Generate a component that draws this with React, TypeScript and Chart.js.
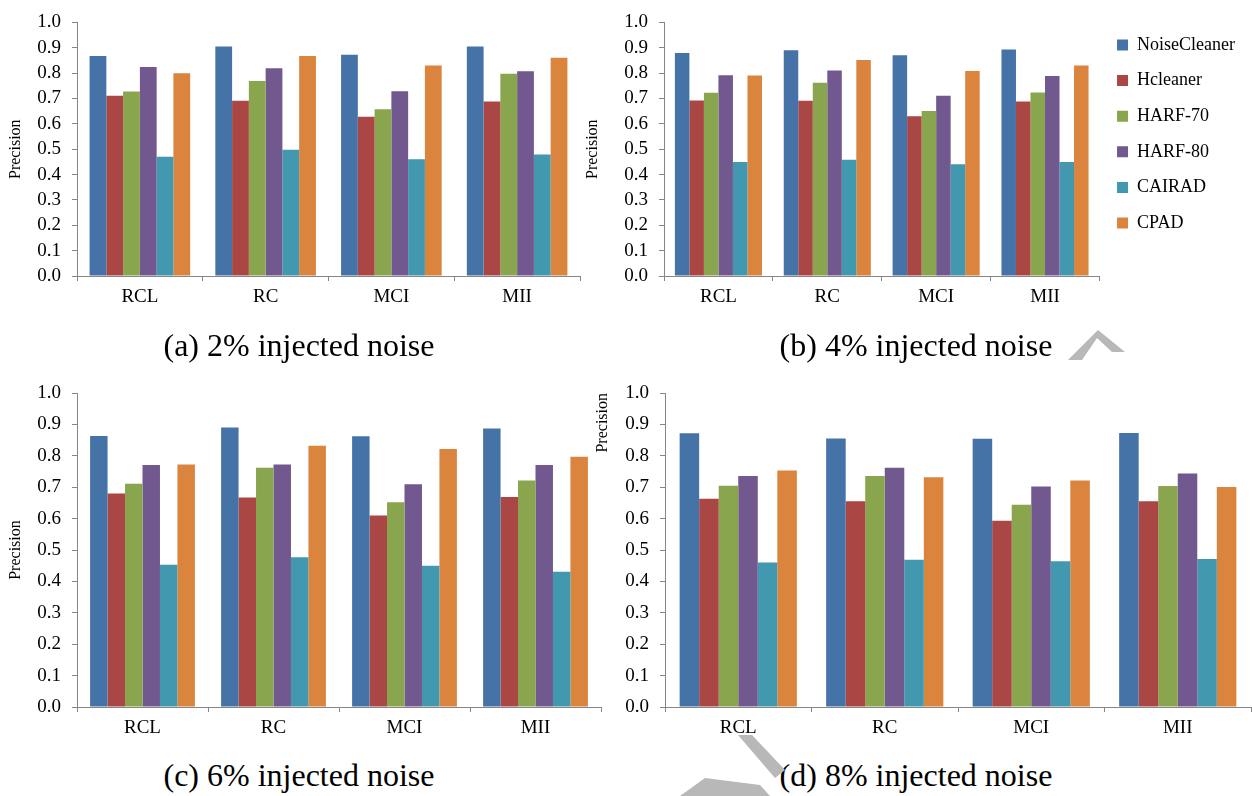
import React, { useEffect, useRef } from 'react';
import { Chart, registerables } from 'chart.js';

Chart.register(...registerables);

const categories = ['RCL', 'RC', 'MCI', 'MII'];
const seriesNames = ['NoiseCleaner', 'Hcleaner', 'HARF-70', 'HARF-80', 'CAIRAD', 'CPAD'];
const seriesColors = ['#4572A7', '#AA4643', '#89A54E', '#71588F', '#4198AF', '#DB843D'];
const yAxisTitle = 'Precision';
const yMin = 0;
const yMax = 1;
const yStep = 0.1;

// rows follow seriesNames, columns follow categories
const precision2 = [
  [0.868, 0.905, 0.872, 0.905],
  [0.711, 0.691, 0.628, 0.688],
  [0.728, 0.769, 0.658, 0.798],
  [0.824, 0.819, 0.729, 0.807],
  [0.470, 0.498, 0.460, 0.479],
  [0.799, 0.868, 0.830, 0.861],
];
const precision4 = [
  [0.879, 0.890, 0.870, 0.893],
  [0.692, 0.691, 0.630, 0.688],
  [0.723, 0.762, 0.651, 0.724],
  [0.792, 0.810, 0.711, 0.789],
  [0.450, 0.458, 0.441, 0.450],
  [0.791, 0.852, 0.808, 0.830],
];
const precision6 = [
  [0.863, 0.890, 0.862, 0.887],
  [0.680, 0.667, 0.610, 0.669],
  [0.711, 0.762, 0.652, 0.721],
  [0.771, 0.772, 0.709, 0.771],
  [0.453, 0.477, 0.450, 0.431],
  [0.772, 0.832, 0.822, 0.797],
];
const precision8 = [
  [0.872, 0.855, 0.854, 0.873],
  [0.663, 0.655, 0.593, 0.655],
  [0.705, 0.736, 0.644, 0.704],
  [0.736, 0.762, 0.702, 0.744],
  [0.460, 0.469, 0.464, 0.471],
  [0.753, 0.732, 0.721, 0.701],
];
const captions = [
  '(a) 2% injected noise',
  '(b) 4% injected noise',
  '(c) 6% injected noise',
  '(d) 8% injected noise',
];

const FONT = "'Liberation Serif', 'Times New Roman', serif";
const AXIS_GRAY = '#868686';

type PanelProps = {
  left: number;
  top: number;
  width: number;
  height: number;
  padding: { top: number; right: number; bottom: number; left: number };
  yWidth: number;
  xHeight: number;
  values: number[][];
  showLegend: boolean;
  titleAlign: 'start' | 'center' | 'end';
};

function Panel(props: PanelProps) {
  const ref = useRef<HTMLCanvasElement | null>(null);
  useEffect(() => {
    if (!ref.current) return;
    const chart = new Chart(ref.current, {
      type: 'bar',
      data: {
        labels: categories,
        datasets: seriesNames.map((name, i) => ({
          label: name,
          data: props.values[i],
          backgroundColor: seriesColors[i],
          borderWidth: 0,
          categoryPercentage: 0.8,
          barPercentage: 1.0,
        })),
      },
      options: {
        responsive: false,
        animation: false,
        events: [],
        devicePixelRatio: 1,
        layout: { padding: props.padding },
        plugins: {
          tooltip: { enabled: false },
          legend: props.showLegend
            ? {
                display: true,
                position: 'right',
                align: 'start',
                title: {
                  display: true,
                  text: ' ',
                  font: { size: 2, lineHeight: 1.2 },
                  padding: 0.5,
                },
                labels: {
                  boxWidth: 11,
                  boxHeight: 11,
                  padding: 17.6,
                  color: '#000',
                  font: { family: FONT, size: 18 },
                },
              }
            : { display: false },
        },
        scales: {
          x: {
            offset: true,
            grid: {
              display: true,
              drawOnChartArea: false,
              drawTicks: true,
              tickLength: 5,
              offset: true,
              color: AXIS_GRAY,
            },
            border: { display: true, color: AXIS_GRAY, width: 1 },
            ticks: {
              color: '#000',
              padding: 5,
              font: { family: FONT, size: 19 },
              maxRotation: 0,
              autoSkip: false,
            },
            afterFit: (scale: any) => {
              scale.height = props.xHeight;
            },
          },
          y: {
            min: yMin,
            max: yMax,
            grid: {
              display: true,
              drawOnChartArea: false,
              drawTicks: true,
              tickLength: 5,
              color: AXIS_GRAY,
            },
            border: { display: true, color: AXIS_GRAY, width: 1 },
            ticks: {
              stepSize: yStep,
              autoSkip: false,
              color: '#000',
              padding: 11,
              font: { family: FONT, size: 19 },
              callback: (v: any) => Number(v).toFixed(1),
            },
            title: {
              display: true,
              text: yAxisTitle,
              color: '#000',
              align: props.titleAlign,
              font: { family: FONT, size: 16 },
              padding: { top: 6, bottom: 0 },
            },
            afterFit: (scale: any) => {
              scale.width = props.yWidth;
            },
          },
        },
      } as any,
    });
    return () => chart.destroy();
  }, []);
  return (
    <canvas
      ref={ref}
      width={props.width}
      height={props.height}
      style={{
        position: 'absolute',
        left: props.left,
        top: props.top,
        width: props.width,
        height: props.height,
      }}
    />
  );
}

function Caption({ text, x, y }: { text: string; x: number; y: number }) {
  return (
    <div
      style={{
        position: 'absolute',
        left: x,
        top: y,
        transform: 'translate(-50%, -50%)',
        fontFamily: FONT,
        fontSize: 32,
        lineHeight: 1,
        whiteSpace: 'nowrap',
        color: '#000',
      }}
    >
      {text}
    </div>
  );
}

export default function App() {
  return (
    <div
      style={{
        position: 'absolute',
        left: 0,
        top: 0,
        width: 1252,
        height: 796,
        background: '#fff',
        overflow: 'hidden',
      }}
    >
      <Panel
        left={0}
        top={0}
        width={600}
        height={320}
        padding={{ top: 15, right: 20, bottom: 4, left: 0 }}
        yWidth={77}
        xHeight={40}
        values={precision2}
        showLegend={false}
        titleAlign="center"
      />
      <Panel
        left={577}
        top={0}
        width={675}
        height={320}
        padding={{ top: 15, right: 7, bottom: 4, left: 0 }}
        yWidth={87}
        xHeight={40}
        values={precision4}
        showLegend={true}
        titleAlign="center"
      />
      <Panel
        left={0}
        top={360}
        width={620}
        height={390}
        padding={{ top: 33, right: 19, bottom: 3, left: 0 }}
        yWidth={77}
        xHeight={40}
        values={precision6}
        showLegend={false}
        titleAlign="center"
      />
      <Panel
        left={587}
        top={360}
        width={665}
        height={390}
        padding={{ top: 33, right: 1, bottom: 3, left: 0 }}
        yWidth={78}
        xHeight={40}
        values={precision8}
        showLegend={false}
        titleAlign="end"
      />
      <Caption text={captions[0]} x={299} y={345} />
      <Caption text={captions[1]} x={916} y={345} />
      <Caption text={captions[2]} x={299} y={775} />
      <Caption text={captions[3]} x={916} y={775} />
      <svg
        width={1252}
        height={796}
        style={{ position: 'absolute', left: 0, top: 0, pointerEvents: 'none' }}
      >
        <polygon points="1068,360 1098,330 1125,352 1112,352 1097,338 1082,360" fill="#b8b8b8" />
        <polygon points="738,735 752,735 785,770 775,778" fill="#b8b8b8" />
        <polygon points="680,796 705,778 760,785 770,796" fill="#b8b8b8" />
      </svg>
    </div>
  );
}
